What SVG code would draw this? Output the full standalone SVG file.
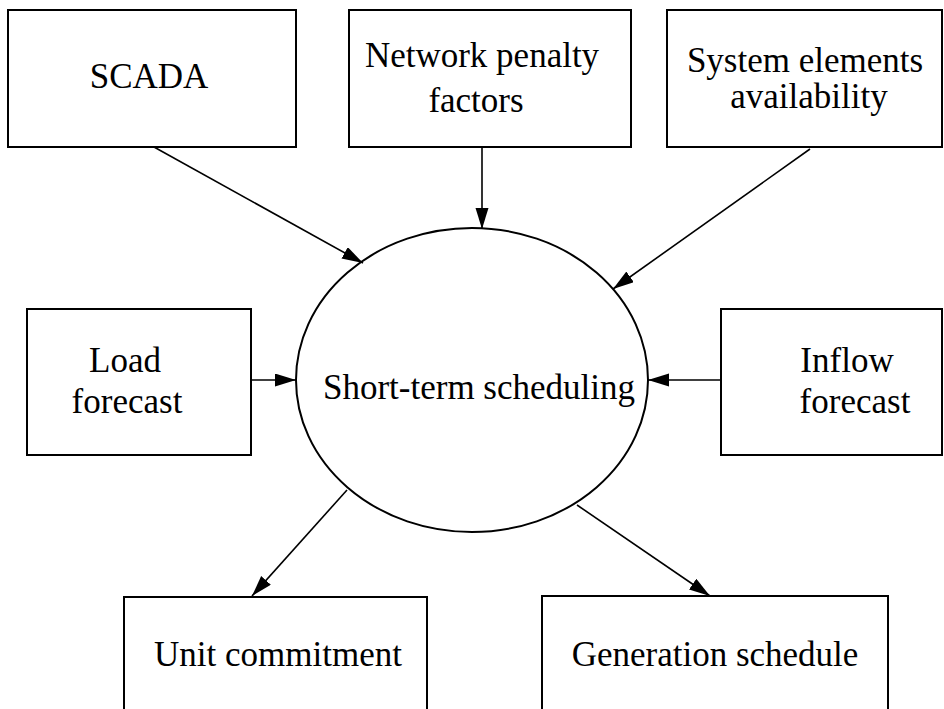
<svg xmlns="http://www.w3.org/2000/svg" width="944" height="709" viewBox="0 0 944 709">
<style>
.box{fill:#fff;stroke:#000;stroke-width:2}
.lbl{font-family:"Liberation Serif","Times New Roman",serif;font-size:35px;fill:#000;text-anchor:middle}
.edge{stroke:#000;stroke-width:1.6;fill:none;marker-end:url(#ah)}
</style>
<defs>
<marker id="ah" markerUnits="userSpaceOnUse" markerWidth="22" markerHeight="14" refX="21" refY="6.5" orient="auto">
<path d="M0,0 L21,6.5 L0,13 z" fill="#000"/>
</marker>
</defs>
<rect width="944" height="709" fill="#fff"/>
<g id="scada"><rect class="box" x="8" y="10" width="288" height="137"/><text class="lbl" x="149" y="88">SCADA</text></g>
<g id="network"><rect class="box" x="349" y="10" width="282" height="137"/><text class="lbl" x="482" y="67">Network penalty</text><text class="lbl" x="476" y="112">factors</text></g>
<g id="system"><rect class="box" x="667" y="10" width="275" height="137"/><text class="lbl" x="805" y="72">System elements</text><text class="lbl" x="809" y="108">availability</text></g>
<g id="load"><rect class="box" x="27" y="309" width="224" height="146"/><text class="lbl" x="125" y="372">Load</text><text class="lbl" x="127" y="413">forecast</text></g>
<g id="inflow"><rect class="box" x="721" y="309" width="221" height="146"/><text class="lbl" x="847" y="372">Inflow</text><text class="lbl" x="855" y="413">forecast</text></g>
<g id="sts"><ellipse class="box" cx="472" cy="380" rx="176" ry="152"/><text class="lbl" x="479" y="399">Short-term scheduling</text></g>
<g id="unit"><rect class="box" x="124" y="597" width="303" height="120"/><text class="lbl" x="278" y="666">Unit commitment</text></g>
<g id="gen"><rect class="box" x="542" y="596" width="346" height="120"/><text class="lbl" x="715" y="666">Generation schedule</text></g>
<g id="connectors">
<line class="edge" x1="154" y1="147" x2="363" y2="263"/>
<line class="edge" x1="482" y1="147" x2="482" y2="229"/>
<line class="edge" x1="810" y1="149" x2="613" y2="289"/>
<line class="edge" x1="251" y1="380" x2="296" y2="380"/>
<line class="edge" x1="721" y1="380" x2="648" y2="380"/>
<line class="edge" x1="347" y1="490" x2="252" y2="596"/>
<line class="edge" x1="577" y1="505" x2="710" y2="596"/>
</g>
</svg>
